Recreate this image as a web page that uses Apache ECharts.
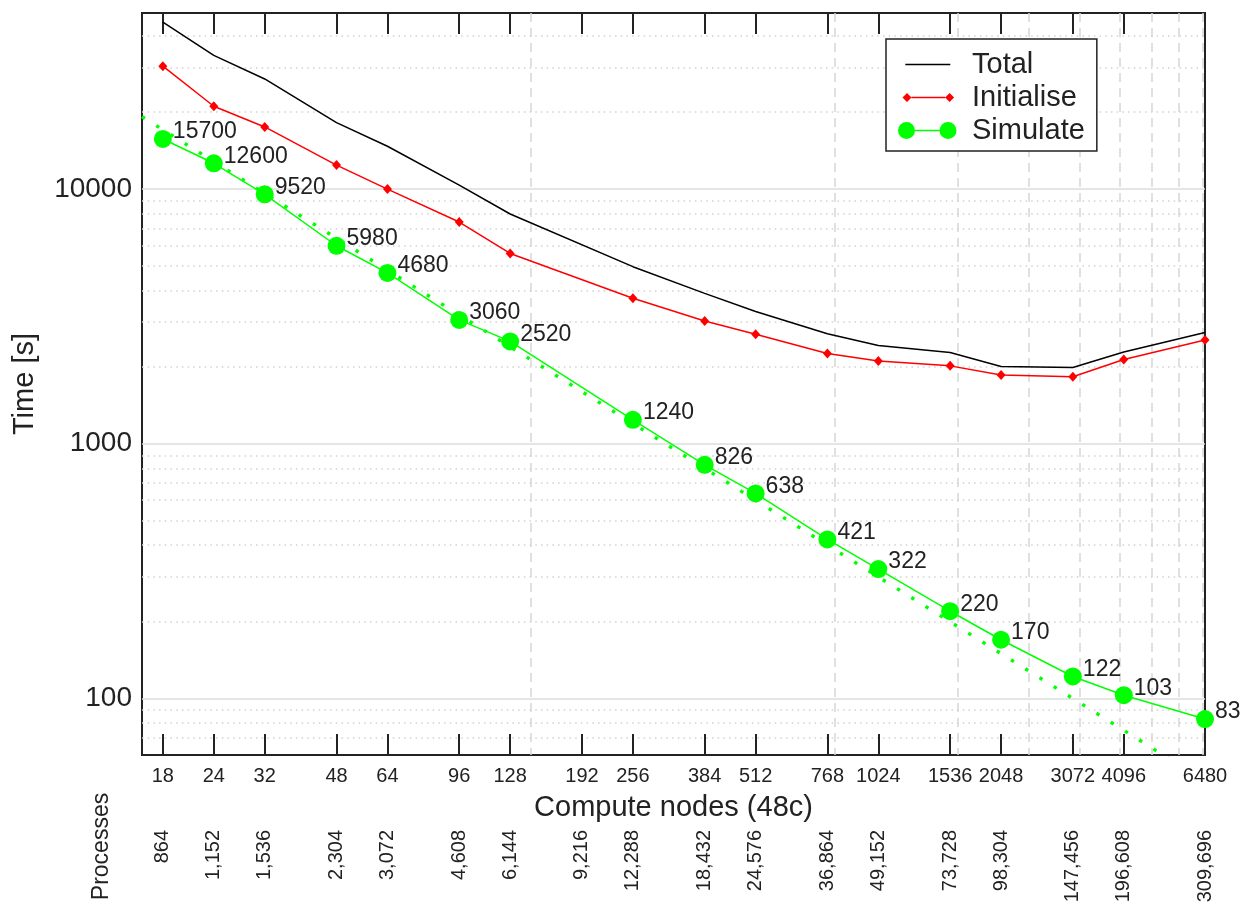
<!DOCTYPE html>
<html><head><meta charset="utf-8">
<script src="https://cdn.jsdelivr.net/npm/echarts@6/dist/echarts.min.js"></script>
<style>html,body{margin:0;padding:0;background:#fff}#c{width:1255px;height:904px}</style>
</head><body><div id="c"></div>
<script>
const FONT = 'Liberation Sans, Arial, Helvetica, sans-serif';
const nodeTicks = [18,24,32,48,64,96,128,192,256,384,512,768,1024,1536,2048,3072,4096,6480];
const nodeTickLabels = ['18','24','32','48','64','96','128','192','256','384','512','768','1024','1536','2048','3072','4096','6480'];
const processLabels = ['864','1,152','1,536','2,304','3,072','4,608','6,144','9,216','12,288','18,432','24,576','36,864','49,152','73,728','98,304','147,456','196,608','309,696'];
const runNodes = [18,24,32,48,64,96,128,256,384,512,768,1024,1536,2048,3072,4096,6480];
const totalTime = [45100,33400,27000,18200,14700,10350,7970,4950,3890,3300,2700,2430,2280,2010,1990,2290,2730];
const initTime  = [30300,21100,17500,12400,9980,7410,5580,3720,3030,2690,2260,2110,2020,1860,1830,2140,2550];
const simTime   = [15700,12600,9520,5980,4680,3060,2520,1240,826,638,421,322,220,170,122,103,83];
const idealNodes = [16,6480];
const idealTime  = [19200,47.4];
const yMajorTicks = [100,1000,10000];
const yMinorTicks = [70,80,90,200,300,400,500,600,700,800,900,2000,3000,4000,5000,6000,7000,8000,9000,20000,30000,40000];
const xGridLines = [144,800,1600,2400,3200,4000,4800,5600,6400];

function lookup(v, keys, labels) {
  let best = 0, bd = Infinity;
  keys.forEach((k, i) => { const d = Math.abs(Math.log(k) - Math.log(v)); if (d < bd) { bd = d; best = i; } });
  return labels[best];
}
const pairs = (xs, ys) => xs.map((x, i) => [x, ys[i]]);

const SL = 'M0 0h0.01v0.01h-0.01Z M68.99 17.99h0.01v0.01h-0.01Z ';
const iconTotal = 'path://' + SL + 'M7.3 8.25H52.3V9.75H7.3Z';
const iconInit = 'path://' + SL + 'M13.5 8.25H47.1V9.75H13.5Z M9 4.5L13.5 9L9 13.5L4.5 9Z M51.6 4.5L56.1 9L51.6 13.5L47.1 9Z';
const iconSim = 'path://' + SL + 'M17 8.25H41.5V9.75H17Z M0 9a8.5 8.5 0 1 0 17 0a8.5 8.5 0 1 0 -17 0Z M41.5 9a8.5 8.5 0 1 0 17 0a8.5 8.5 0 1 0 -17 0Z';

const XMIN = 16, XMAX = 6480, YMIN = 60, YMAX = 49000;
const baseX = { type: 'log', logBase: 10, min: XMIN, max: XMAX, gridIndex: 0,
  axisLine: { show: false }, minorTick: { show: false }, minorSplitLine: { show: false }, splitLine: { show: false } };
const baseY = { type: 'log', logBase: 10, min: YMIN, max: YMAX, gridIndex: 0,
  axisLine: { show: false }, minorTick: { show: false }, minorSplitLine: { show: false } };

const chart = echarts.init(document.getElementById('c'), null, { renderer: 'canvas' });
chart.setOption({
  animation: false,
  textStyle: { fontFamily: FONT },
  grid: { left: 142, right: 50, top: 13, bottom: 149, show: true, borderColor: '#222', borderWidth: 2,
          backgroundColor: 'transparent', containLabel: false, outerBoundsMode: 'none' },
  legend: {
    left: 886, top: 39, orient: 'vertical', padding: [11, 12, 6, 12],
    itemWidth: 69, itemHeight: 18, itemGap: 4, symbolKeepAspect: false, selectedMode: false,
    backgroundColor: '#fff', borderColor: '#222', borderWidth: 1.5,
    textStyle: { fontSize: 29, color: '#222', fontFamily: FONT },
    data: [
      { name: 'Total', icon: iconTotal, itemStyle: { color: '#000', borderWidth: 0 } },
      { name: 'Initialise', icon: iconInit, itemStyle: { color: '#ff0000', borderWidth: 0 } },
      { name: 'Simulate', icon: iconSim, itemStyle: { color: '#00ff00', borderWidth: 0 } }
    ]
  },
  xAxis: [
    Object.assign({}, baseX, {
      position: 'bottom',
      axisTick: { show: true, inside: true, length: 21, customValues: nodeTicks, lineStyle: { color: '#222', width: 2 } },
      axisLabel: { show: true, customValues: nodeTicks, margin: 11, fontSize: 20, color: '#222', fontFamily: FONT,
                   formatter: v => lookup(v, nodeTicks, nodeTickLabels) },
      name: 'Compute nodes (48c)', nameLocation: 'middle', nameGap: 38,
      nameTextStyle: { fontSize: 29, color: '#222', fontFamily: FONT }
    }),
    Object.assign({}, baseX, {
      position: 'top',
      axisTick: { show: true, inside: true, length: 21, customValues: nodeTicks, lineStyle: { color: '#222', width: 2 } },
      axisLabel: { show: false }
    }),
    Object.assign({}, baseX, {
      position: 'bottom',
      axisTick: { show: false, customValues: xGridLines },
      axisLabel: { show: false },
      splitLine: { show: true, lineStyle: { color: '#d6d6d6', width: 1.5, type: [9, 6] } }
    }),
    Object.assign({}, baseX, {
      position: 'bottom',
      axisTick: { show: false },
      axisLabel: { show: true, customValues: nodeTicks, rotate: 90, margin: 75, fontSize: 20, color: '#222', fontFamily: FONT,
                   formatter: v => lookup(v, nodeTicks, processLabels) }
    })
  ],
  yAxis: [
    Object.assign({}, baseY, {
      position: 'left',
      axisTick: { show: false, customValues: yMajorTicks },
      axisLabel: { show: true, customValues: yMajorTicks, margin: 10, fontSize: 28, color: '#222', fontFamily: FONT,
                   formatter: v => String(Math.round(v)) },
      splitLine: { show: true, lineStyle: { color: '#dcdcdc', width: 1.5, type: 'solid' } },
      name: 'Time [s]', nameLocation: 'middle', nameGap: 103,
      nameTextStyle: { fontSize: 29, color: '#222', fontFamily: FONT }
    }),
    Object.assign({}, baseY, {
      position: 'left',
      axisTick: { show: false, customValues: yMinorTicks },
      axisLabel: { show: false },
      splitLine: { show: true, lineStyle: { color: '#d2d2d2', width: 1.5, type: [1.5, 4.2] } }
    })
  ],
  graphic: [
    { type: 'text', x: 102, y: 846.5, rotation: Math.PI / 2,
      style: { text: 'Processes', fontSize: 23, fill: '#222', align: 'center', verticalAlign: 'middle', fontFamily: FONT } }
  ],
  series: [
    { name: 'Ideal', type: 'line', xAxisIndex: 0, yAxisIndex: 0, data: pairs(idealNodes, idealTime),
      symbol: 'none', clip: true, silent: true, z: 3,
      lineStyle: { color: '#00ff00', width: 3.4, type: [3.4, 13.4] } },
    { name: 'Total', type: 'line', xAxisIndex: 0, yAxisIndex: 0, data: pairs(runNodes, totalTime),
      symbol: 'none', clip: false, silent: true, z: 4,
      itemStyle: { color: '#000' }, lineStyle: { color: '#000', width: 1.5 } },
    { name: 'Initialise', type: 'line', xAxisIndex: 0, yAxisIndex: 0, data: pairs(runNodes, initTime),
      symbol: 'diamond', symbolSize: [9, 10], showAllSymbol: true, clip: false, silent: true, z: 5,
      itemStyle: { color: '#ff0000' }, lineStyle: { color: '#ff0000', width: 1.5 } },
    { name: 'Simulate', type: 'line', xAxisIndex: 0, yAxisIndex: 0, data: pairs(runNodes, simTime),
      symbol: 'circle', symbolSize: 18, showAllSymbol: true, clip: false, silent: true, z: 6,
      itemStyle: { color: '#00ff00' }, lineStyle: { color: '#00ff00', width: 1.5 },
      label: { show: true, position: 'right', distance: 1, offset: [0, -7], fontSize: 23, color: '#222', fontFamily: FONT,
               formatter: p => String(p.value[1]) } }
  ]
});
</script></body></html>
